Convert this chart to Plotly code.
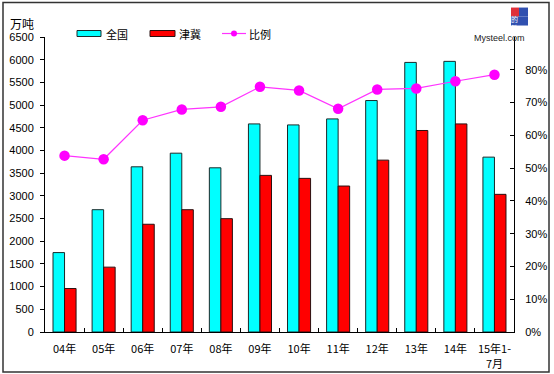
import plotly.graph_objects as go

categories = ["04年", "05年", "06年", "07年", "08年", "09年", "10年", "11年", "12年", "13年", "14年", "15年1-<br>7月"]
national = [1750, 2695, 3640, 3940, 3618, 4585, 4563, 4695, 5100, 5940, 5963, 3853]
jinji = [958, 1429, 2374, 2695, 2497, 3451, 3385, 3216, 3787, 4440, 4585, 3033]
ratio = [0.538, 0.527, 0.646, 0.679, 0.687, 0.748, 0.737, 0.681, 0.740, 0.743, 0.765, 0.785]
series_names = ["全国", "津冀", "比例"]

FONT = "Liberation Sans, Noto Sans CJK SC, sans-serif"
W, H = 554, 374
L, R, T, B = 45, 40, 36.5, 42
pw, ph = W - L - R, H - T - B

def px(x):
    return (x - L) / pw

def py(y):
    return (H - B - y) / ph

fig = go.Figure()
fig.add_trace(go.Bar(name=series_names[0], x=categories, y=national,
                     marker=dict(color="#00FFFF", line=dict(color="#1a2a2a", width=1))))
fig.add_trace(go.Bar(name=series_names[1], x=categories, y=jinji,
                     marker=dict(color="#FF0000", line=dict(color="#2a1010", width=1))))
fig.add_trace(go.Scatter(name=series_names[2], x=categories, y=ratio, yaxis="y2", mode="lines+markers",
                         line=dict(color="#FF33FF", width=1.2),
                         marker=dict(color="#FF00FF", size=10.5, symbol="circle")))

fig.update_layout(
    width=W, height=H,
    margin=dict(l=L, r=R, t=T, b=B, autoexpand=False),
    paper_bgcolor="white", plot_bgcolor="white",
    barmode="group", bargap=0.41, bargroupgap=0,
    font=dict(family=FONT, size=11, color="black"),
    showlegend=False,
    xaxis=dict(type="category", showline=True, linecolor="black", linewidth=1,
               ticks="inside", ticklen=4, tickcolor="black", tickson="boundaries",
               showgrid=False, tickangle=0, automargin=False, ticklabelstandoff=7,
               tickfont=dict(size=11, family="Noto Sans CJK SC"),
               range=[-0.5, len(categories) - 0.5]),
    yaxis=dict(range=[0, 6500], dtick=500, showline=True, linecolor="black", linewidth=1,
               ticks="outside", ticklen=4, tickcolor="black", showgrid=False, zeroline=False,
               automargin=False, ticklabelstandoff=4, tickfont=dict(size=11)),
    yaxis2=dict(range=[0, 0.9], overlaying="y", side="right",
                tickvals=[0, 0.1, 0.2, 0.3, 0.4, 0.5, 0.6, 0.7, 0.8], tickformat=".0%",
                showline=True, linecolor="black", linewidth=1, automargin=False,
                ticks="inside", ticklen=4, tickcolor="black", showgrid=False, zeroline=False,
                ticklabelstandoff=8, tickfont=dict(size=11)),
)

# manual legend
legend_font = dict(size=11, family="Noto Sans CJK SC", color="black")
fig.add_shape(type="rect", xref="paper", yref="paper", x0=px(77), x1=px(101), y0=py(30), y1=py(36),
              fillcolor="#00FFFF", line=dict(color="#1a2a2a", width=1))
fig.add_annotation(text=series_names[0], xref="paper", yref="paper", x=px(104), y=py(33),
                   xanchor="left", yanchor="middle", showarrow=False, font=legend_font)
fig.add_shape(type="rect", xref="paper", yref="paper", x0=px(150), x1=px(175), y0=py(30), y1=py(36),
              fillcolor="#FF0000", line=dict(color="#2a1010", width=1))
fig.add_annotation(text=series_names[1], xref="paper", yref="paper", x=px(177), y=py(33),
                   xanchor="left", yanchor="middle", showarrow=False, font=legend_font)
fig.add_shape(type="line", xref="paper", yref="paper", x0=px(222), x1=px(246), y0=py(33), y1=py(33),
              line=dict(color="#FF33FF", width=1.2))
fig.add_shape(type="circle", xref="paper", yref="paper", x0=px(231), x1=px(237), y0=py(30), y1=py(36),
              fillcolor="#FF00FF", line=dict(color="#FF00FF", width=0))
fig.add_annotation(text=series_names[2], xref="paper", yref="paper", x=px(247), y=py(33),
                   xanchor="left", yanchor="middle", showarrow=False, font=legend_font)

# unit label
fig.add_annotation(text="万吨", xref="paper", yref="paper", x=px(8), y=py(23),
                   xanchor="left", yanchor="middle", showarrow=False,
                   font=dict(size=12, family="Noto Sans CJK SC", color="black"))

# outer border
fig.add_shape(type="rect", xref="paper", yref="paper", x0=px(3), x1=px(549), y0=py(2), y1=py(372),
              line=dict(color="#333333", width=1.5), layer="below")

# logo approximation
fig.add_shape(type="rect", xref="paper", yref="paper", x0=px(511), x1=px(519), y0=py(7), y1=py(16),
              fillcolor="#E0303A", line=dict(width=0))
fig.add_shape(type="rect", xref="paper", yref="paper", x0=px(519), x1=px(528), y0=py(7), y1=py(16),
              fillcolor="#3050B0", line=dict(width=0))
fig.add_shape(type="rect", xref="paper", yref="paper", x0=px(511), x1=px(528), y0=py(16), y1=py(25),
              fillcolor="#3050B0", line=dict(width=0))
fig.add_annotation(text="我的", xref="paper", yref="paper", x=px(519.5), y=py(11.5),
                   showarrow=False, font=dict(size=7, color="white", family="Noto Sans CJK SC"))
fig.add_annotation(text="钢铁", xref="paper", yref="paper", x=px(519.5), y=py(20.5),
                   showarrow=False, font=dict(size=7, color="white", family="Noto Sans CJK SC"))
fig.add_annotation(text="Mysteel.com", xref="paper", yref="paper", x=px(527), y=py(30),
                   showarrow=False, font=dict(size=9, color="#222222", family="Liberation Sans Narrow, Liberation Sans"))

fig.write_html("out.html", config={"displayModeBar": False},
               post_script="document.body.style.margin='0';document.body.style.overflow='hidden';")
